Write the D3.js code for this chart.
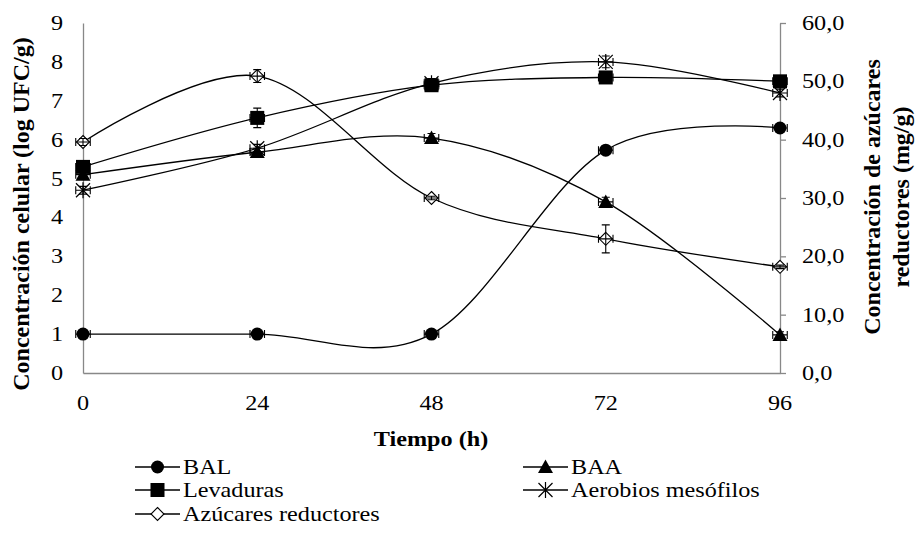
<!DOCTYPE html>
<html><head><meta charset="utf-8">
<script src="https://cdn.jsdelivr.net/npm/d3@7"></script>
<style>body{margin:0;background:#fff}svg{display:block}text{font-family:"Liberation Serif","Times New Roman",serif;fill:#000}</style>
</head><body><svg id="c" width="915" height="534"></svg>
<script>
const hours = [0, 24, 48, 72, 96];
const leftTicks = [0,1,2,3,4,5,6,7,8,9];
const rightTicks = [0,10,20,30,40,50,60];
const BAL = [1.0, 1.0, 1.0, 5.73, 6.3];
const BAA = [5.1, 5.68, 6.04, 4.4, 0.98];
const Levaduras = [5.3, 6.56, 7.4, 7.6, 7.5];
const Aerobios = [4.7, 5.78, 7.45, 8.0, 7.2];
const Azucares = [39.6, 50.9, 30.0, 23.0, 18.2];
const errBAL = [0.05, 0.05, 0.05, 0.08, 0.08];
const errBAA = [0.08, 0.1, 0.12, 0.12, 0.08];
const errLev = [0.1, 0.25, 0.1, 0.1, 0.1];
const errAer = [0.1, 0.1, 0.12, 0.15, 0.1];
const errAzu = [0.6, 1.1, 0.3, 2.4, 0.3];
const xErr = 1;

const svg = d3.select("#c");
const L = 83, R = 780, T = 23, B = 373;
const x = d3.scaleLinear().domain([0,96]).range([L,R]);
const yL = d3.scaleLinear().domain([0,9]).range([B,T]);
const yR = d3.scaleLinear().domain([0,60]).range([B,T]);
const axisCol = "#888";
const FS = 22;
const SX = 1.1;

function htext(g, xx, yy, str, anchor, bold){
  const t = g.append("text").attr("transform",`translate(${xx},${yy}) scale(${SX},1)`)
    .attr("text-anchor",anchor||"start").attr("font-size",FS).text(str);
  if(bold) t.attr("font-weight","bold");
  return t;
}

// axes
const yAxisL = d3.axisLeft(yL).tickValues(leftTicks).tickSize(0).tickPadding(0).tickFormat(d3.format("d"));
const gL = svg.append("g").attr("transform",`translate(${L},0)`).call(yAxisL);
gL.select(".domain").attr("stroke",axisCol).attr("stroke-width",1.3);
gL.selectAll(".tick text").remove();
leftTicks.forEach(v=>htext(svg, 63, yL(v)+7, String(v), "end"));

const yAxisR = d3.axisRight(yR).tickValues(rightTicks).tickSize(6).tickSizeOuter(0);
const gR = svg.append("g").attr("transform",`translate(${R},0)`).call(yAxisR);
gR.select(".domain").attr("stroke",axisCol).attr("stroke-width",1.3);
gR.selectAll(".tick line").attr("stroke",axisCol).attr("stroke-width",1.3);
gR.selectAll(".tick text").remove();
rightTicks.forEach(v=>htext(svg, 802, yR(v)+7, d3.format(".1f")(v).replace(".",","), "start"));

const xAxis = d3.axisBottom(x).tickValues(hours).tickSize(0);
const gX = svg.append("g").attr("transform",`translate(0,${B})`).call(xAxis);
gX.select(".domain").attr("stroke",axisCol).attr("stroke-width",1.3);
gX.selectAll(".tick text").remove();
hours.forEach(v=>htext(svg, x(v), 410, String(v), "middle"));

// titles
htext(svg, 431, 446, "Tiempo (h)", "middle", true);
svg.append("text").attr("transform","translate(29,214) rotate(-90)").attr("text-anchor","middle")
  .attr("font-size",24).attr("font-weight","bold").text("Concentración celular (log UFC/g)");
svg.append("text").attr("transform","translate(880,197) rotate(-90)").attr("text-anchor","middle")
  .attr("font-size",24).attr("font-weight","bold").text("Concentración de azúcares");
svg.append("text").attr("transform","translate(909,197) rotate(-90)").attr("text-anchor","middle")
  .attr("font-size",24).attr("font-weight","bold").text("reductores (mg/g)");

// markers
function marker(g, type, cx, cy){
  const s = g.append("g").attr("transform",`translate(${cx},${cy})`);
  if(type==="circle") s.append("circle").attr("r",6.5).attr("fill","#000");
  else if(type==="square") s.append("rect").attr("x",-7).attr("y",-7).attr("width",14).attr("height",14).attr("fill","#000");
  else if(type==="triangle") s.append("path").attr("d","M0,-7.5L7.5,6L-7.5,6Z").attr("fill","#000");
  else if(type==="star"){
    s.append("path").attr("d","M-7,-7L7,7M-7,7L7,-7M0,-8V8").attr("stroke","#000").attr("stroke-width",1.2).attr("fill","none");
  } else if(type==="diamond") s.append("path").attr("d","M0,-6.5L6.5,0L0,6.5L-6.5,0Z").attr("fill","#fff").attr("stroke","#000").attr("stroke-width",1.1);
}

const series = [
  {name:"BAL", vals:BAL, err:errBAL, y:yL, m:"circle"},
  {name:"BAA", vals:BAA, err:errBAA, y:yL, m:"triangle"},
  {name:"Levaduras", vals:Levaduras, err:errLev, y:yL, m:"square"},
  {name:"Aerobios mesófilos", vals:Aerobios, err:errAer, y:yL, m:"star"},
  {name:"Azúcares reductores", vals:Azucares, err:errAzu, y:yR, m:"diamond"}
];

const line = d3.line().curve(d3.curveCardinal.tension(0));
const plot = svg.append("g");
series.forEach(s=>{
  const pts = hours.map((h,i)=>[x(h), s.y(s.vals[i])]);
  plot.append("path").attr("d",line(pts)).attr("fill","none").attr("stroke","#000").attr("stroke-width",1.3);
});
series.forEach(s=>{
  const g = plot.append("g");
  hours.forEach((h,i)=>{
    const cx = x(h), cy = s.y(s.vals[i]);
    const y1 = s.y(s.vals[i]+s.err[i]), y2 = s.y(s.vals[i]-s.err[i]);
    const x1 = x(h-xErr), x2 = x(h+xErr);
    marker(g, s.m, cx, cy);
    const e = g.append("g").attr("stroke","#000").attr("stroke-width",1.1).attr("fill","none");
    e.append("path").attr("d",`M${cx},${y1}V${y2}M${cx-4},${y1}H${cx+4}M${cx-4},${y2}H${cx+4}`);
    e.append("path").attr("d",`M${x1},${cy}H${x2}M${x1},${cy-4}V${cy+4}M${x2},${cy-4}V${cy+4}`);
  });
});

// legend
const legPos = [[135,467],[523,467],[135,490],[523,490],[135,514]];
series.forEach((s,i)=>{
  const [lx,ly] = legPos[i];
  const g = svg.append("g");
  g.append("line").attr("x1",lx).attr("x2",lx+45).attr("y1",ly).attr("y2",ly).attr("stroke","#000").attr("stroke-width",1.3);
  marker(g, s.m, lx+22.5, ly);
  htext(g, lx+48, ly+7, s.name, "start");
});
</script></body></html>
